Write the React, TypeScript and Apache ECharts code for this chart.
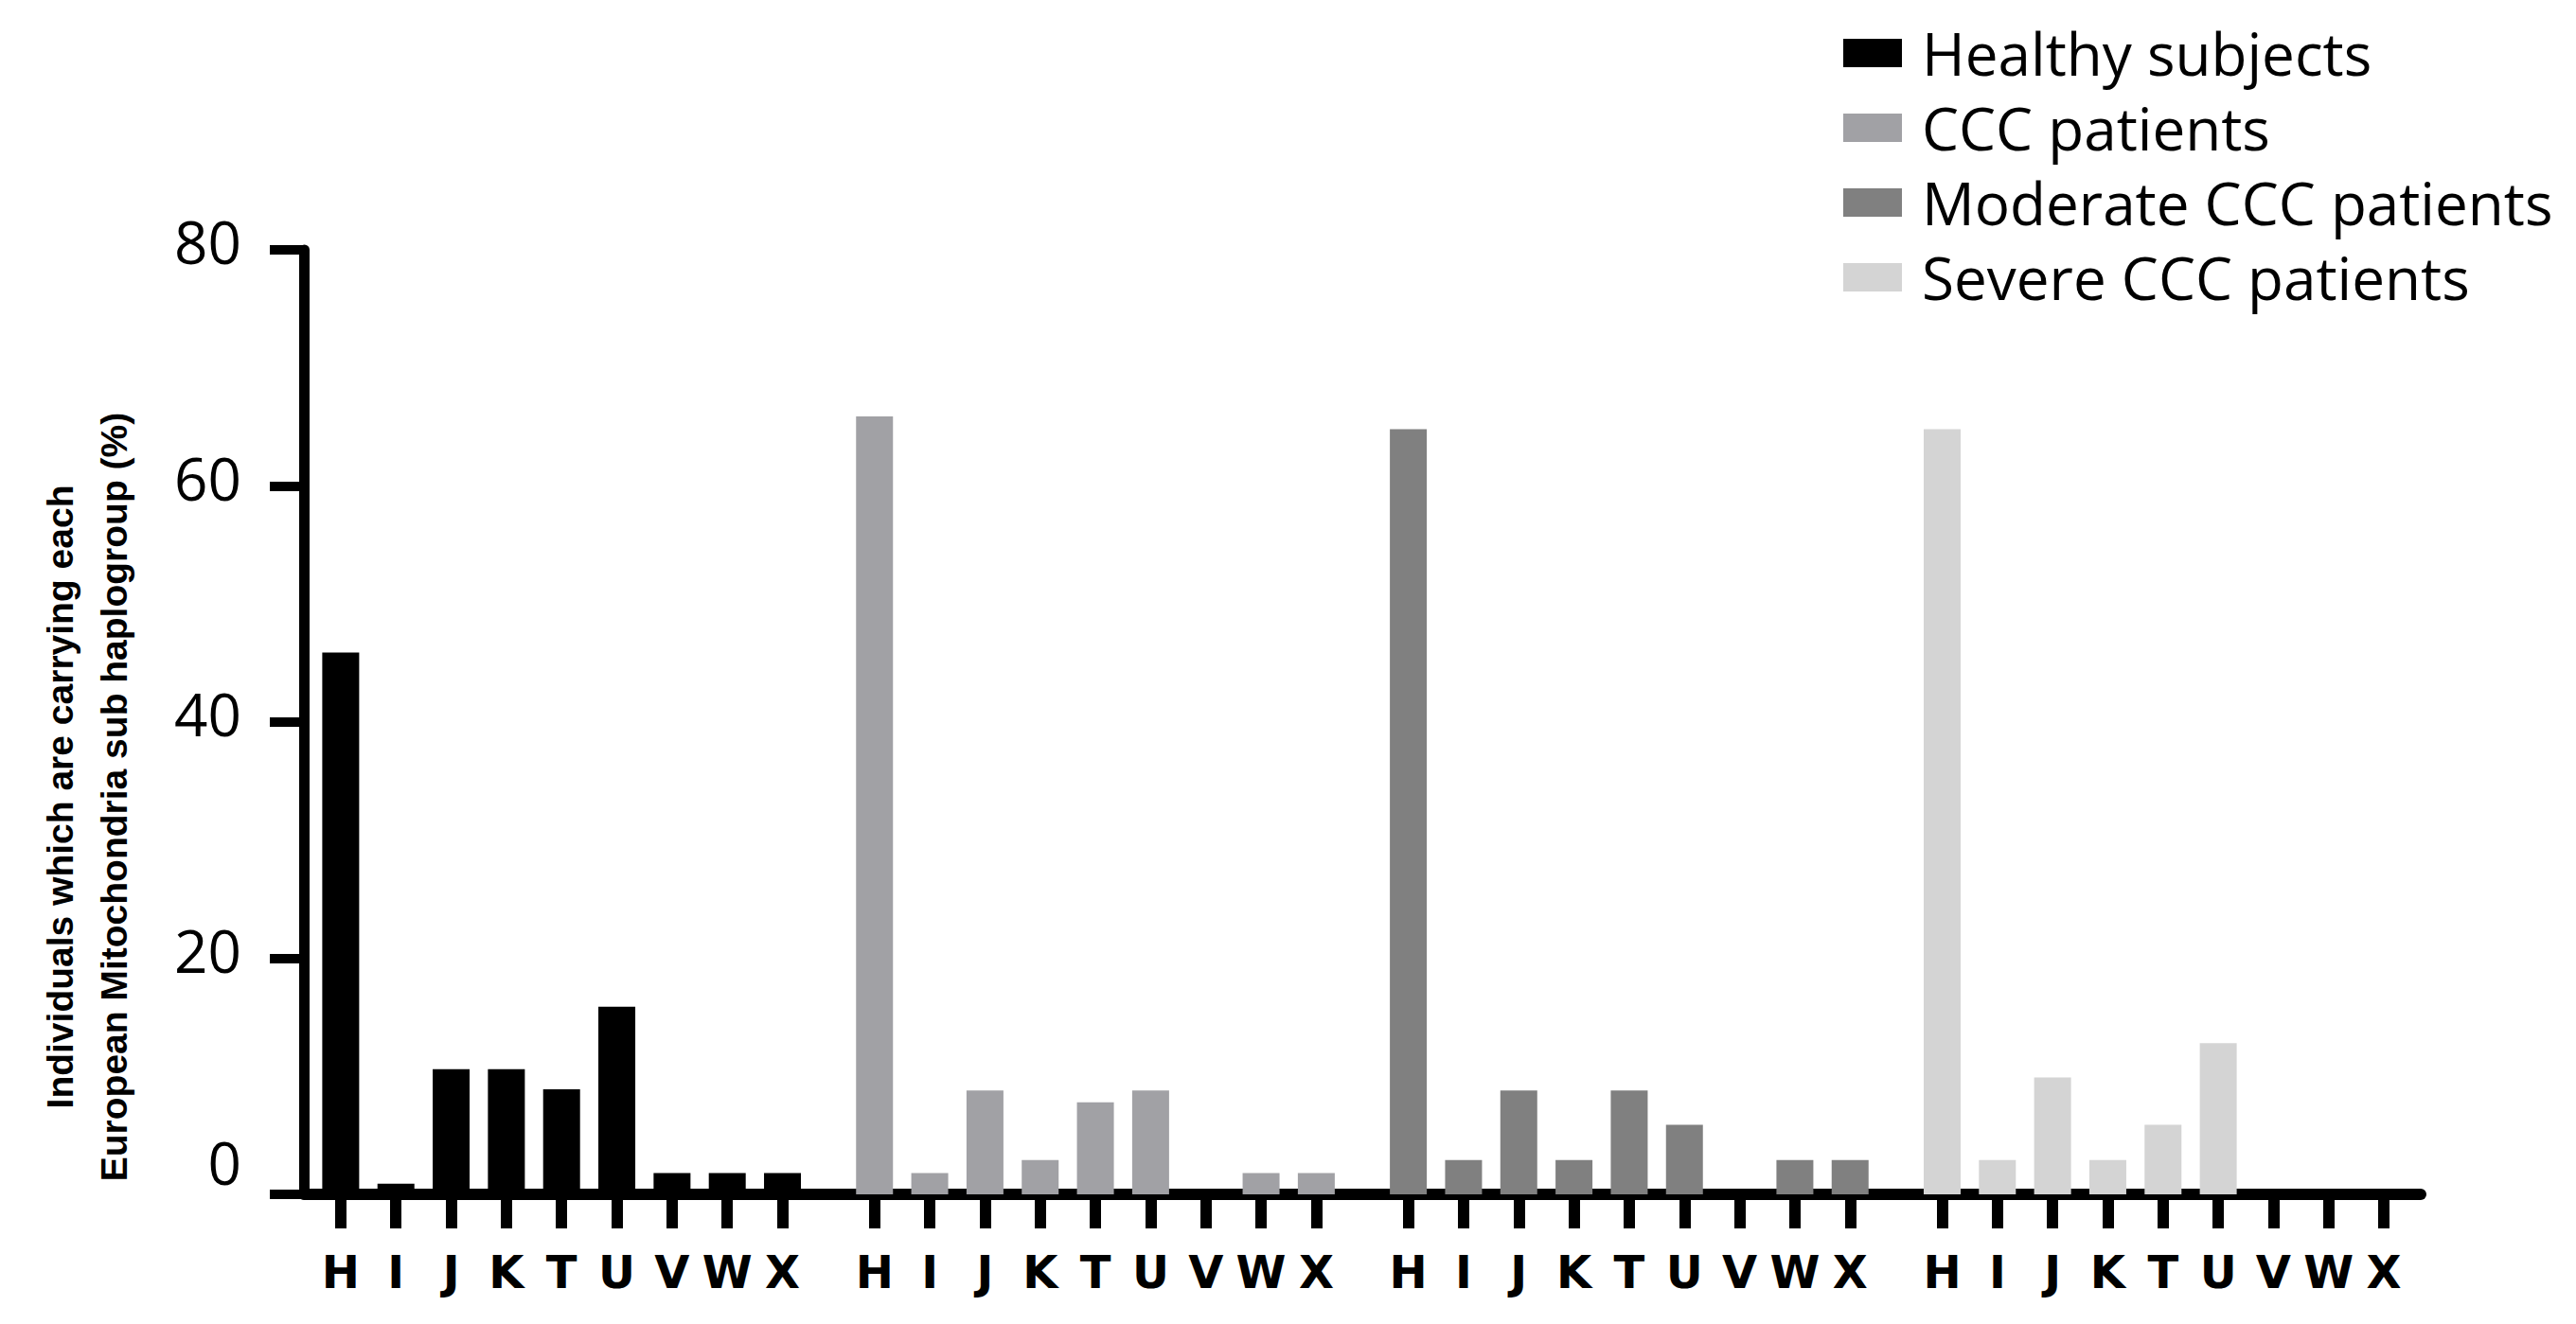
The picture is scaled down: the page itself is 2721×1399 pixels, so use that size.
import React, { useEffect, useRef } from "react";
import * as echarts from "echarts";

// ---------- data ----------
const haplogroups = ["H", "I", "J", "K", "T", "U", "V", "W", "X"];
const seriesNames = [
  "Healthy subjects",
  "CCC patients",
  "Moderate CCC patients",
  "Severe CCC patients",
];
const healthy = [45.9, 0.9, 10.6, 10.6, 8.9, 15.9, 1.8, 1.8, 1.8];
const cccPatients = [65.9, 1.8, 8.8, 2.9, 7.8, 8.8, 0, 1.8, 1.8];
const moderateCCC = [64.8, 2.9, 8.8, 2.9, 8.8, 5.9, 0, 2.9, 2.9];
const severeCCC = [64.8, 2.9, 9.9, 2.9, 5.9, 12.8, 0, 0, 0];
const yTickValues = [0, 20, 40, 60, 80];
const yTitleLines = [
  "Individuals which are carrying each",
  "European Mitochondria sub haplogroup (%)",
];
const colors = ["#000000", "#a1a1a5", "#808080", "#d4d4d4"];

// ---------- layout (fine category grid: 3 sub-steps per haplogroup, 5 between panels) ----------
const STEP = 3;
const PANEL_PERIOD = 29;
const LEAD = 2;
const N_CATS = 116;

export default function App() {
  const ref = useRef<HTMLDivElement>(null);

  useEffect(() => {
    if (!ref.current) return;
    const chart = echarts.init(ref.current, undefined, { renderer: "svg" });

    const panels = [healthy, cccPatients, moderateCCC, severeCCC];
    const cats: string[] = new Array(N_CATS).fill("");
    panels.forEach((_, g) => {
      haplogroups.forEach((h, i) => {
        cats[LEAD + g * PANEL_PERIOD + i * STEP] = h;
      });
    });

    const series = panels.map((vals, g) => {
      const arr: (number | null)[] = new Array(N_CATS).fill(null);
      vals.forEach((v, i) => {
        arr[LEAD + g * PANEL_PERIOD + i * STEP] = v;
      });
      return {
        name: seriesNames[g],
        type: "bar",
        data: arr,
        barWidth: 39,
        barGap: "-100%",
        itemStyle: { color: colors[g] },
        z: 1,
      };
    });

    const isReal = (_i: number, v: string) => v !== "";

    chart.setOption({
      animation: false,
      color: colors,
      grid: { left: 321, top: 264, width: 2236, height: 998, containLabel: false },
      legend: {
        orient: "vertical",
        left: 1942,
        top: 20,
        icon: "rect",
        itemWidth: 62,
        itemHeight: 30,
        itemGap: 17,
        data: seriesNames,
        selectedMode: false,
        textStyle: {
          fontFamily: "Open Sans",
          fontSize: 62,
          lineHeight: 62,
          color: "#000",
          padding: [0, 0, 0, 16],
        },
      },
      xAxis: {
        type: "category",
        data: cats,
        boundaryGap: false,
        axisLine: { show: true, lineStyle: { color: "#000", width: 12 } },
        axisTick: { show: true, interval: isReal, length: 36, lineStyle: { color: "#000", width: 12 } },
        axisLabel: {
          interval: isReal,
          margin: 58,
          fontFamily: "DejaVu Sans",
          fontWeight: "bold",
          fontSize: 48,
          color: "#000",
        },
        splitLine: { show: false },
      },
      yAxis: {
        type: "value",
        min: yTickValues[0],
        max: yTickValues[yTickValues.length - 1],
        interval: 20,
        axisLine: { show: true, lineStyle: { color: "#000", width: 11 } },
        axisTick: { show: true, length: 36, lineStyle: { color: "#000", width: 10 } },
        splitLine: { show: false },
        axisLabel: {
          margin: 66,
          formatter: (v: number) => (v === 0 ? `{z|${v}}` : `{n|${v}}`),
          rich: {
            n: { fontFamily: "Open Sans", fontSize: 62, color: "#000", padding: [0, 0, 18, 0] },
            z: { fontFamily: "Open Sans", fontSize: 62, color: "#000", padding: [0, 0, 68, 0] },
          },
        },
      },
      graphic: [
        {
          type: "text",
          x: 92,
          y: 842,
          rotation: Math.PI / 2,
          style: {
            text: yTitleLines.join("\n"),
            fontFamily: "Liberation Sans",
            fontWeight: "bold",
            fontSize: 39,
            lineHeight: 57,
            fill: "#000",
            align: "center",
            verticalAlign: "middle",
          },
        },
      ],
      series,
    });

    return () => chart.dispose();
  }, []);

  return (
    <div
      ref={ref}
      style={{ position: "fixed", left: 0, top: 0, width: 2721, height: 1399, background: "#fff" }}
    />
  );
}
